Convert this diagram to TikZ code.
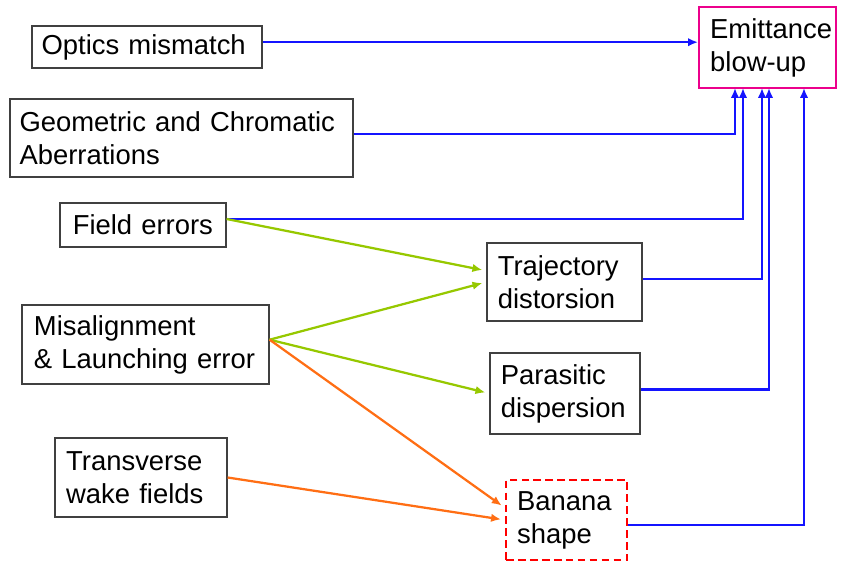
\documentclass[tikz,border=0pt]{standalone}
\usepackage{fontspec}
\setmainfont{Liberation Sans}
\usetikzlibrary{arrows.meta}
\definecolor{linkblue}{RGB}{20,20,255}
\definecolor{linkgreen}{RGB}{150,200,0}
\definecolor{linkorange}{RGB}{255,110,20}
\tikzset{
  cause/.style={draw=black!75, line width=0.8pt, align=left, inner xsep=0.24cm, inner ysep=0pt,
    font=\fontsize{19.5}{23.5}\selectfont},
  feed/.style={linkblue, line width=1.8pt, -{Latex[length=7pt,width=6pt]}},
  green link/.style={linkgreen, line width=1.6pt, -{Latex[length=7pt,width=6pt]}, shorten >=3pt},
  orange link/.style={linkorange, line width=1.6pt, -{Latex[length=7pt,width=6pt]}, shorten >=3pt}
}

\begin{document}
\hyphenpenalty=10000
\exhyphenpenalty=10000
\begin{tikzpicture}[x=0.025cm, y=-0.025cm]
            \useasboundingbox (0,0) rectangle (849,563);
            % boxes
            \node[cause, text width=5.27cm, minimum height=1.05cm] (optics) at (147,47) {Optics mismatch};
            \node[cause, draw=magenta, line width=1.4pt, inner xsep=0.28cm, text width=2.865cm, minimum height=2.025cm] (emit) at (767.5,47.5) {Emittance\\blow-up};
            \node[cause, text width=8.095cm, minimum height=1.95cm] (geo) at (181.5,138) {Geometric and Chromatic\\Aberrations};
            \node[cause, inner xsep=0.32cm, text width=3.51cm, minimum height=1.1cm] (field) at (143,225) {Field errors};
            \node[cause, inner xsep=0.27cm, text width=3.335cm, minimum height=1.95cm] (traj) at (564.5,282) {Trajectory\\distorsion};
            \node[cause, inner xsep=0.3cm, text width=5.575cm, minimum height=1.975cm] (mis) at (145.5,344.5) {Misalignment\\\& Launching error};
            \node[cause, inner xsep=0.27cm, text width=3.21cm, minimum height=2.025cm] (para) at (565,393.5) {Parasitic\\dispersion};
            \node[cause, inner xsep=0.28cm, text width=3.74cm, minimum height=1.975cm] (wake) at (141,477.5) {Transverse\\wake fields};
            \node[cause, draw=red, dash pattern=on 5.5pt off 3pt, line width=1.3pt, inner xsep=0.28cm, text width=2.465cm, minimum height=2cm] (banana) at (566.5,520) {Banana\\shape};
            % entry points under the emittance box
            \coordinate (in1) at (735,88);
            \coordinate (in2) at (743,88);
            \coordinate (in3) at (762,88);
            \coordinate (in4) at (769,88);
            \coordinate (in5) at (804,88);
            % direct contributions
            \draw[feed] ([yshift=0.12cm]optics.east) -- ([yshift=0.12cm]optics.east -| emit.west);
            \draw[feed] ([yshift=0.1cm]geo.east) -| (in1);
            \draw[feed] ([yshift=0.15cm]field.east) -| (in2);
            \draw[feed] ([yshift=0.08cm]traj.east) -| (in3);
            \draw[feed] ([yshift=0.1cm]para.east) -| (in4);
            \draw[feed] ([yshift=-0.12cm]banana.east) -| (in5);
            % indirect effects
            \draw[green link] ([yshift=0.15cm]field.east) -- ([yshift=0.28cm]traj.west);
            \draw[green link] ([yshift=0.12cm]mis.east) -- (traj.west);
            \draw[green link] ([yshift=0.12cm]mis.east) -- (para.west);
            \draw[orange link] ([yshift=0.12cm]mis.east) -- ([yshift=0.3cm]banana.west);
            \draw[orange link] (wake.east) -- (banana.west);
        \end{tikzpicture}
\end{document}
